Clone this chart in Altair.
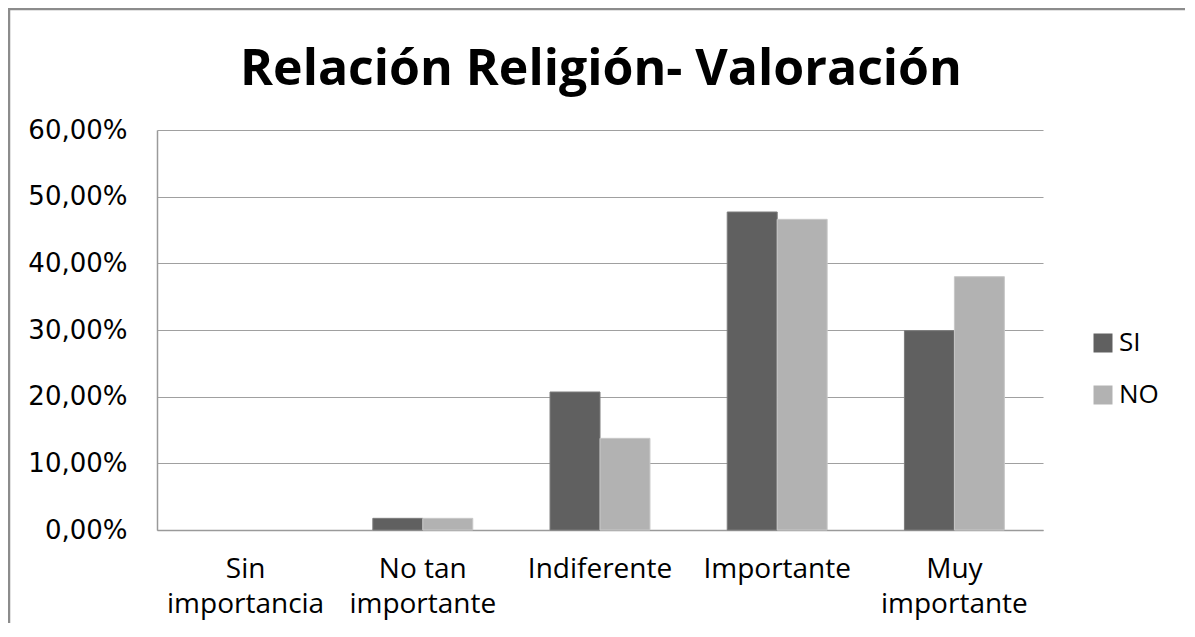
import altair as alt
import pandas as pd

categories = ["Sin importancia", "No tan importante", "Indiferente", "Importante", "Muy importante"]
series = ["SI", "NO"]
si_values = [0.0, 1.75, 20.7, 47.7, 29.9]
no_values = [0.0, 1.75, 13.75, 46.6, 38.0]
y_ticks = [0, 10, 20, 30, 40, 50, 60]
fill_colors = ["#606060", "#b2b2b2"]
stroke_colors = ["#7c7c7c", "#c8c8c8"]
title_text = "Relación Religión- Valoración"

rows = []
for c, s, n in zip(categories, si_values, no_values):
    rows.append({"cat": c, "serie": "SI", "value": s})
    rows.append({"cat": c, "serie": "NO", "value": n})
df = pd.DataFrame(rows)

W, H = 886, 400
PAD = {"left": 149, "top": 122, "right": 142, "bottom": 93}

x_label_expr = (
    "indexof(datum.label, ' ') > 0 ? "
    "[substring(datum.label, 0, lastindexof(datum.label, ' ')), "
    "substring(datum.label, lastindexof(datum.label, ' ') + 1)] : datum.label"
)
y_label_expr = "replace(format(datum.value, '.2f'), '.', ',') + '%'"

bars = alt.Chart(df).transform_filter("datum.value > 0").mark_bar(strokeWidth=1).encode(
    x=alt.X(
        "cat:N",
        sort=categories,
        scale=alt.Scale(domain=categories, paddingInner=0.436, paddingOuter=0.218),
        axis=alt.Axis(
            title=None, labelAngle=0, labelExpr=x_label_expr,
            labelFont="Open Sans", labelFontSize=28, labelColor="#000000",
            labelLineHeight=35, labelPadding=25, labelLimit=0,
            ticks=False, domainColor="#9a9a9a", domainWidth=1.5,
        ),
    ),
    xOffset=alt.XOffset("serie:N", sort=series, scale=alt.Scale(domain=series, paddingInner=0, paddingOuter=0)),
    y=alt.Y(
        "value:Q",
        scale=alt.Scale(domain=[0, 60], nice=False),
        axis=alt.Axis(
            values=y_ticks, title=None, labelExpr=y_label_expr,
            labelFont="DejaVu Sans", labelFontSize=26, labelColor="#000000",
            labelPadding=30, ticks=False, grid=True, gridColor="#a0a0a0",
            gridWidth=1.2, domainColor="#9a9a9a", domainWidth=1.5,
        ),
    ),
    color=alt.Color(
        "serie:N", sort=series,
        scale=alt.Scale(domain=series, range=fill_colors),
        legend=alt.Legend(
            title=None, orient="none", legendX=933, legendY=200,
            symbolType="square", symbolSize=361, symbolStrokeWidth=0,
            labelFont="Open Sans", labelFontSize=26, labelColor="#000000",
            labelOffset=3, rowPadding=26, padding=0,
        ),
    ),
    stroke=alt.Stroke("serie:N", scale=alt.Scale(domain=series, range=stroke_colors), legend=None),
)

frame = alt.Chart(alt.Data(values=[{}])).mark_rect(
    fill="transparent", stroke="#8c8c8c", strokeWidth=2.5
).encode(
    x=alt.value(-148), x2=alt.value(W + 200),
    y=alt.value(-121), y2=alt.value(H + 200),
)

title = alt.Chart(alt.Data(values=[{"t": title_text}])).mark_text(
    font="Open Sans", fontSize=50, fontWeight="bold", color="#000000",
    align="center", baseline="alphabetic",
).encode(
    text="t:N", x=alt.value(W / 2 + 1), y=alt.value(-45),
)

chart = alt.layer(bars, frame, title).properties(
    width=W, height=H, padding=PAD,
    autosize=alt.AutoSizeParams(type="none"),
).configure_view(stroke=None)

chart.save("out.html", embed_options={"renderer": "svg", "actions": False})
